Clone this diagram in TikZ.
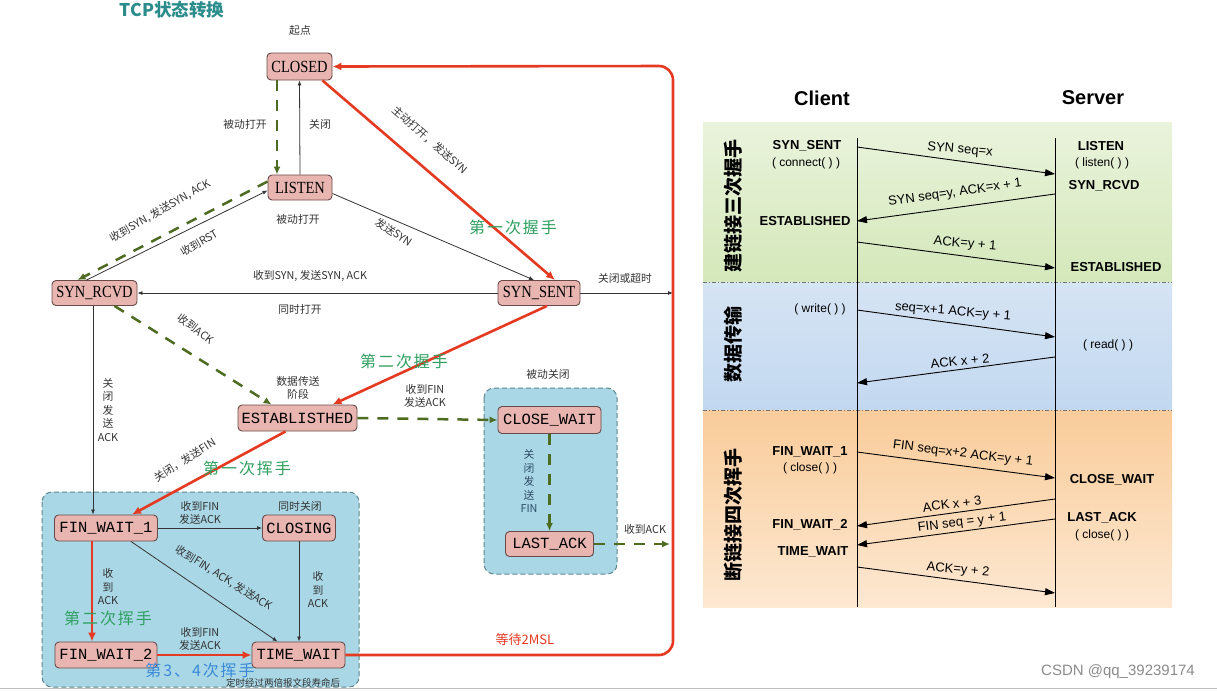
\documentclass[tikz,border=0pt]{standalone}
\usepackage{fontspec}
\setmainfont{Liberation Serif}
\newfontfamily\cjk{Noto Sans CJK SC}
\newfontfamily\handf[LetterSpace=12]{Noto Sans CJK SC}
\newfontfamily\ser[FakeStretch=0.85]{Liberation Serif}
\newfontfamily\mon{Liberation Mono}
\newfontfamily\ari{Liberation Sans}
\usetikzlibrary{arrows.meta}
\definecolor{nodefill}{HTML}{E8B5B0}
\definecolor{nodedraw}{HTML}{6A4A48}
\definecolor{tcpred}{HTML}{E53A22}
\definecolor{dgreen}{HTML}{4E6B22}
\definecolor{hgreen}{HTML}{2FA060}
\definecolor{boxblue}{HTML}{A9D7E6}
\definecolor{boxline}{HTML}{5E878E}
\definecolor{lbl}{HTML}{333333}
\definecolor{titlec}{HTML}{2B8C8C}
\definecolor{hblue}{HTML}{3A8AD8}
\definecolor{finblue}{HTML}{2D4D66}
\tikzset{
  st/.style={draw=nodedraw, fill=nodefill, rounded corners=4pt, line width=0.9pt, inner sep=0pt},
  stA/.style={st, font=\ser\fontsize{17}{17}\selectfont},
  stB/.style={st, font=\mon\fontsize{15.5}{15.5}\selectfont},
  lab/.style={font=\cjk\fontsize{10.8}{13.5}\selectfont, text=lbl, inner sep=0pt, align=center},
  hand/.style={font=\handf\fontsize{16}{16}\selectfont, text=hgreen, inner sep=0pt},
  redarr/.style={draw=tcpred, line width=2.6pt, -{Latex[length=9pt,width=8pt]}},
  grnarr/.style={draw=dgreen, line width=2.5pt, dash pattern=on 11pt off 9pt, -{Latex[length=8pt,width=7pt]}},
  blkarr/.style={draw=black!80, line width=0.8pt, -{Latex[length=5pt,width=4pt]}},
  sqarr/.style={draw=black, line width=0.9pt, -{Triangle[length=10pt,width=7pt]}},
  sqlab/.style={font=\ari\fontsize{13}{13}\selectfont, inner sep=0pt},
  sqst/.style={font=\ari\bfseries\fontsize{13}{13}\selectfont, inner sep=0pt},
  sqsub/.style={font=\ari\fontsize{12}{12}\selectfont, inner sep=0pt},
  vlab/.style={font=\cjk\bfseries\fontsize{19}{19}\selectfont, rotate=90, inner sep=0pt},
  dashbox/.style={draw=boxline, fill=boxblue, line width=1pt, rounded corners=10pt, dash pattern=on 5pt off 3pt},
  sep/.style={draw=black!55, line width=0.8pt, dash pattern=on 4pt off 2pt on 1pt off 2pt}
}
\begin{document}
\begin{tikzpicture}[x=1pt,y=-1pt]
\useasboundingbox (0,0) rectangle (1217,691);
\fill[white] (0,0) rectangle (1217,691);
\draw[black!25, line width=1pt] (0,688.5) -- (1217,688.5);

% ---------- left: state diagram ----------
\node[font=\cjk\bfseries\fontsize{17.5}{17.5}\selectfont, text=titlec] (title) at (172,10) {TCP状态转换};

\draw[dashbox] (42,492) rectangle (359,687);
\draw[dashbox] (484,388) rectangle (617,574);

\node[stA, minimum width=65pt, minimum height=27pt] (CL) at (299.5,66.5) {CLOSED};
\node[stA, minimum width=64pt, minimum height=25pt] (LI) at (300,187.5) {LISTEN};
\node[stA, minimum width=85pt, minimum height=25pt] (SR) at (94.5,293) {SYN\_RCVD};
\node[stA, minimum width=82pt, minimum height=25pt] (SS) at (539,293) {SYN\_SENT};
\node[stB, minimum width=119pt, minimum height=26pt] (ES) at (297.5,418) {ESTABLISTHED};
\node[stB, minimum width=103pt, minimum height=27pt] (CW) at (549.5,420) {CLOSE\_WAIT};
\node[stB, minimum width=88pt, minimum height=25pt] (LA) at (549.5,544) {LAST\_ACK};
\node[stB, minimum width=103pt, minimum height=26pt] (F1) at (106,528) {FIN\_WAIT\_1};
\node[stB, minimum width=73pt, minimum height=26pt] (CG) at (299,528) {CLOSING};
\node[stB, minimum width=102pt, minimum height=26pt] (F2) at (106,655) {FIN\_WAIT\_2};
\node[stB, minimum width=93pt, minimum height=26pt] (TW) at (298.5,655) {TIME\_WAIT};

\coordinate (RT) at (673,66);

\node[lab] (l0) at (300,30) {起点};
\draw[grnarr] ([xshift=-22.5pt]CL.south) -- ([xshift=-23pt]LI.north);
\draw[blkarr] (LI.north) -- (CL.south);
\node[lab] (l1) at (245,124) {被动打开};
\node[lab] (l2) at (320,124) {关闭};

\draw[redarr] ([xshift=-10pt]CL.south east) -- ([xshift=16pt]SS.north);
\node[lab, rotate=-41] (l3) at (430,140) {主动打开，发送SYN};
\node[hand] (h1) at (513,227) {第一次握手};

\draw[blkarr] ([yshift=-6pt]LI.east) -- ([xshift=-5pt]SS.north);
\node[lab, rotate=-33] (l4) at (394,232) {发送SYN};

\draw[grnarr] ([yshift=6pt]LI.west) -- ([xshift=-17pt]SR.north);
\draw[blkarr] ([xshift=-8pt]SR.north) -- ([yshift=-3pt]LI.west);
\node[lab, rotate=30] (l5) at (160,211) {收到SYN, 发送SYN, ACK};
\node[lab, rotate=30] (l6) at (199,243) {收到RST};
\node[lab] (l7) at (298,219) {被动打开};

\draw[blkarr] (SS.west) -- (SR.east);
\node[lab] (l8) at (310,276) {收到SYN, 发送SYN, ACK};
\node[lab] (l9) at (300,309) {同时打开};

\draw[blkarr] (SS.east) -- (SS.east -| RT);
\node[lab] (l10) at (625,278) {关闭或超时};

\draw[redarr] ([xshift=8pt]SS.south) -- ([xshift=-25pt]ES.north east);
\node[hand] (h2) at (404,361) {第二次握手};

\draw[grnarr] ([xshift=20pt]SR.south) -- ([xshift=34pt]ES.north west);
\node[lab, rotate=-38] (l11) at (196,329) {收到ACK};

\draw[blkarr] ([xshift=-1.5pt]SR.south) -- ([xshift=-13pt]F1.north);
\node[lab] (l12) at (108,410) {关\\闭\\发\\送\\ACK};

\draw[grnarr] (ES.east) -- (CW.west);
\node[lab] (l13) at (425,396) {收到FIN\\发送ACK};
\node[lab] (l14) at (298,388) {数据传送\\阶段};

\draw[redarr] ([xshift=-12pt]ES.south) -- ([xshift=26pt]F1.north);
\node[lab, rotate=33] (l15) at (185,460) {关闭，发送FIN};
\node[hand] (h3) at (247,468) {第一次挥手};

\draw[grnarr] (CW.south) -- (LA.north);
\node[lab, text=finblue] (l16) at (529,481) {关\\闭\\发\\送\\FIN};
\node[lab] (l17) at (548,374) {被动关闭};

\draw[grnarr, shorten >=3pt] (LA.east) -- (LA.east -| RT);
\node[lab] (l18) at (645,529) {收到ACK};

\draw[blkarr] (F1.east) -- (CG.west);
\node[lab] (l19) at (200,513) {收到FIN\\发送ACK};
\node[lab] (l20) at (300,506) {同时关闭};

\draw[blkarr] ([xshift=-27pt]F1.south east) -- ([xshift=-21pt]TW.north);
\node[lab, rotate=-32] (l21) at (224,578) {收到FIN, ACK, 发送ACK};

\draw[blkarr] (CG.south) -- (CG.south |- TW.north);
\node[lab] (l22) at (318,590) {收\\到\\ACK};

\draw[redarr] ([xshift=-14pt]F1.south) -- ([xshift=-14pt]F2.north);
\node[lab] (l23) at (108,587) {收\\到\\ACK};
\node[hand] (h4) at (108,618) {第二次挥手};

\draw[redarr] (F2.east) -- (TW.west);
\node[lab] (l24) at (200,639) {收到FIN\\发送ACK};
\node[hand, text=hblue] (h5) at (200,670) {第3、4次挥手};
\node[lab, font=\cjk\fontsize{9.5}{10}\selectfont] (l25) at (283,683) {定时经过两倍报文段寿命后};

\draw[redarr, rounded corners=14pt] (TW.east) -- (TW.east -| RT) -- (RT) -- (CL.east);
\node[font=\cjk\fontsize{13}{13}\selectfont, text=tcpred, inner sep=0pt] (l26) at (525,640) {等待2MSL};

% ---------- right: sequence diagram ----------
\shade[top color={rgb,255:red,234;green,243;blue,220}, bottom color={rgb,255:red,212;green,232;blue,186}] (703,122) rectangle (1172,282);
\shade[top color={rgb,255:red,214;green,228;blue,244}, bottom color={rgb,255:red,194;green,216;blue,240}] (703,282) rectangle (1172,410);
\shade[top color={rgb,255:red,249;green,204;blue,154}, bottom color={rgb,255:red,253;green,232;blue,210}] (703,410) rectangle (1172,607);
\draw[sep] (703,282) -- (1172,282);
\draw[sep] (703,410) -- (1172,410);

\node[font=\ari\bfseries\fontsize{20}{20}\selectfont, inner sep=0pt] (client) at (822,98) {Client};
\node[font=\ari\bfseries\fontsize{20}{20}\selectfont, inner sep=0pt] (server) at (1093,98) {Server};

\coordinate (ct) at (857,138); \coordinate (cb) at (857,607);
\coordinate (svt) at (1055,138); \coordinate (svb) at (1055,607);
\draw[black, line width=0.9pt] (ct) -- (cb);
\draw[black, line width=0.9pt] (svt) -- (svb);

\node[vlab] (v1) at (733,206) {建链接三次握手};
\node[vlab] (v2) at (733,344) {数据传输};
\node[vlab] (v3) at (733,515) {断链接四次挥手};

\node[sqst] (c1) at (807,146) {SYN\_SENT};
\node[sqsub] (c1b) at (806,163) {( connect( ) )};
\node[sqst] (s1) at (1101,146) {LISTEN};
\node[sqsub] (s1b) at (1102,163) {( listen( ) )};
\node[sqst] (s2) at (1104,186) {SYN\_RCVD};
\node[sqst] (c2) at (805,221) {ESTABLISHED};
\node[sqst] (s3) at (1116,267) {ESTABLISHED};

\coordinate (a1s) at (857,147); \coordinate (a1e) at (1055,174);
\coordinate (a2s) at (1055,194); \coordinate (a2e) at (857,221);
\coordinate (a3s) at (857,242); \coordinate (a3e) at (1055,268);
\draw[sqarr] (a1s) -- (a1e);
\draw[sqarr] (a2s) -- (a2e);
\draw[sqarr] (a3s) -- (a3e);
\node[sqlab, rotate=-5] (t1) at (960,150) {SYN seq=x};
\node[sqlab, rotate=8] (t2) at (955,193) {SYN seq=y, ACK=x + 1};
\node[sqlab, rotate=-5] (t3) at (965,244) {ACK=y + 1};

\node[sqsub] (c3) at (820,309) {( write( ) )};
\node[sqsub] (s4) at (1108,345) {( read( ) )};
\coordinate (a4s) at (857,310); \coordinate (a4e) at (1055,337);
\coordinate (a5s) at (1055,357); \coordinate (a5e) at (857,383);
\draw[sqarr] (a4s) -- (a4e);
\draw[sqarr] (a5s) -- (a5e);
\node[sqlab, rotate=-5] (t4) at (953,312) {seq=x+1 ACK=y + 1};
\node[sqlab, rotate=6] (t5) at (960,361) {ACK x + 2};

\node[sqst] (c4) at (810,452) {FIN\_WAIT\_1};
\node[sqsub] (c4b) at (810,468) {( close( ) )};
\node[sqst] (s5) at (1112,480) {CLOSE\_WAIT};
\node[sqst] (s6) at (1102,518) {LAST\_ACK};
\node[sqsub] (s6b) at (1102,535) {( close( ) )};
\node[sqst] (c5) at (810,525) {FIN\_WAIT\_2};
\node[sqst] (c6) at (813,552) {TIME\_WAIT};
\coordinate (a6s) at (857,452); \coordinate (a6e) at (1055,478);
\coordinate (a7s) at (1055,499); \coordinate (a7e) at (857,526);
\coordinate (a8s) at (1055,519); \coordinate (a8e) at (857,545);
\coordinate (a9s) at (857,567); \coordinate (a9e) at (1055,593);
\draw[sqarr] (a6s) -- (a6e);
\draw[sqarr] (a7s) -- (a7e);
\draw[sqarr] (a8s) -- (a8e);
\draw[sqarr] (a9s) -- (a9e);
\node[sqlab, rotate=-7] (t6) at (963,454) {FIN seq=x+2 ACK=y + 1};
\node[sqlab, rotate=7] (t7) at (952,504) {ACK x + 3};
\node[sqlab, rotate=7] (t8) at (962,523) {FIN seq = y + 1};
\node[sqlab, rotate=-5] (t9) at (958,570) {ACK=y + 2};

\node[font=\ari\fontsize{15}{15}\selectfont, text=black!45, inner sep=0pt] (wm) at (1118,672) {CSDN @qq\_39239174};
\end{tikzpicture}
\end{document}
